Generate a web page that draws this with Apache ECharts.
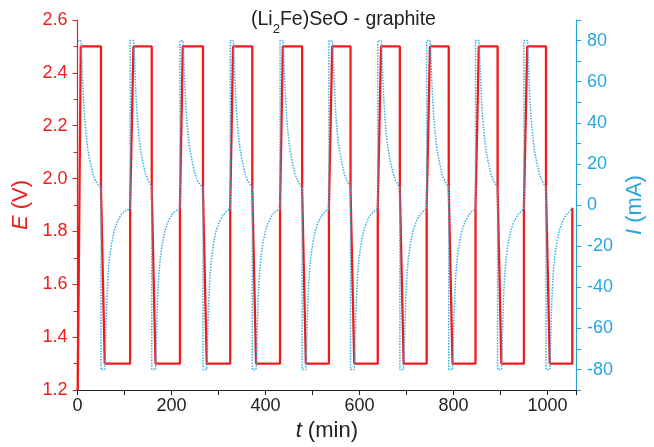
<!DOCTYPE html>
<html><head><meta charset="utf-8">
<script src="https://cdn.jsdelivr.net/npm/echarts@6/dist/echarts.min.js"></script>
<style>html,body{margin:0;padding:0;background:#fff}#c{width:654px;height:447px}</style>
</head><body><div id="c"></div>
<script>
// ---- data (t in min) ----
const chargeStart    = [0.5, 112, 218, 325, 431, 535, 639, 743, 847, 950];
const topStart       = [7, 119, 224, 331, 437, 542, 646, 750, 854, 957];
const dischargeStart = [50, 158, 267, 372, 478, 581, 686, 790, 894, 997];
const bottomStart    = [58, 166, 275, 380, 486, 589, 694, 798, 902, 1005];
const endTime = 1053;
// voltage levels (V)
const E_start = 1.2, E_top = 2.5, E_bottom = 1.3, E_chargeJump = 1.89, E_dischargeJump = 1.96;
// current relaxation shapes (minutes after plateau start, mA)
const chargeCurrent = [[0,80],[1,79],[3,66],[5.5,53],[8,43],[11,35],[15,27],[20,21],[26,15],[31,12],[36,10]];
const chargeEndCurrent = 8.5;
const dischargeCurrent = [[0,-80],[1,-75],[2.5,-60],[4.5,-46],[7,-34],[10.5,-25],[15,-18],[20,-12.5],[27,-8],[34,-5],[42,-3]];
const dischargeEndCurrent = -1.8;
const ccCurrent = 80;
const xLabels = [0, 200, 400, 600, 800, 1000];
const rightLabels = [-80, -60, -40, -20, 0, 20, 40, 60, 80];

// ---- build series ----
const E = [];
const I = [];
for (let k = 0; k < chargeStart.length; k++) {
  if (k === 0) {
    E.push([chargeStart[k], E_start]);
    I.push([chargeStart[k], ccCurrent]);
  } else {
    E.push([chargeStart[k], E_bottom], [chargeStart[k], E_chargeJump]);
    I.push([chargeStart[k], dischargeEndCurrent], [chargeStart[k], ccCurrent]);
  }
  E.push([topStart[k], E_top], [dischargeStart[k], E_top],
         [dischargeStart[k], E_dischargeJump], [bottomStart[k], E_bottom]);
  chargeCurrent.forEach(p => I.push([topStart[k] + p[0], p[1]]));
  I.push([dischargeStart[k], chargeEndCurrent], [dischargeStart[k], -ccCurrent]);
  dischargeCurrent.forEach(p => I.push([bottomStart[k] + p[0], p[1]]));
}
E.push([endTime, E_bottom], [endTime, E_chargeJump]);
I.push([endTime - 1, dischargeEndCurrent]);

const FONT = 'Liberation Sans, Arial, sans-serif';
const RED = '#f01c1c';
const BLUE = '#26a6e0';
const DARK = '#222222';

const chart = echarts.init(document.getElementById('c'), null, {renderer: 'canvas'});
chart.setOption({
  animation: false,
  backgroundColor: '#ffffff',
  textStyle: {fontFamily: FONT},
  title: {
    text: '{n|(Li}{s|2}{n|Fe)SeO - graphite}',
    left: 246, top: 5,
    textStyle: {
      fontWeight: 'normal',
      rich: {
        n: {fontSize: 19.5, fontFamily: FONT, fontWeight: 'normal', color: DARK, lineHeight: 26, verticalAlign: 'top'},
        s: {fontSize: 13, fontFamily: FONT, fontWeight: 'normal', color: DARK, lineHeight: 14, verticalAlign: 'bottom'}
      }
    }
  },
  grid: {left: 77.5, right: 64.5, top: 20, bottom: 52, containLabel: false},
  xAxis: {
    type: 'value', min: 0, max: 1061, interval: 100,
    axisLine: {show: true, onZero: false, lineStyle: {color: DARK, width: 1.2}},
    axisTick: {show: true, length: 5, lineStyle: {color: DARK}},
    axisLabel: {
      color: DARK, fontSize: 18, margin: 7, fontFamily: FONT,
      formatter: v => xLabels.includes(Math.round(v)) ? String(Math.round(v)) : ''
    },
    splitLine: {show: false},
    name: '{i|t}{n| (min)}', nameLocation: 'middle', nameGap: 28,
    nameTextStyle: {rich: {
      i: {fontSize: 22, fontStyle: 'italic', color: DARK, fontFamily: FONT},
      n: {fontSize: 22, color: DARK, fontFamily: FONT}
    }}
  },
  yAxis: [{
    type: 'value', min: 1.2, max: 2.6, interval: 0.2, position: 'left',
    axisLine: {show: true, onZero: false, lineStyle: {color: RED, width: 1.2}},
    axisTick: {show: true, length: 5, lineStyle: {color: RED}},
    minorTick: {show: true, splitNumber: 2, length: 4, lineStyle: {color: RED}},
    axisLabel: {color: RED, fontSize: 18, margin: 10, fontFamily: FONT, formatter: v => v.toFixed(1)},
    splitLine: {show: false},
    name: '{i|E}{n| (V)}', nameLocation: 'middle', nameGap: 43, nameRotate: 90,
    nameTextStyle: {rich: {
      i: {fontSize: 22, fontStyle: 'italic', color: RED, fontFamily: FONT},
      n: {fontSize: 22, color: RED, fontFamily: FONT}
    }}
  }, {
    type: 'value', min: -90, max: 90, interval: 10, position: 'right',
    axisLine: {show: true, onZero: false, lineStyle: {color: BLUE, width: 1.2}},
    axisTick: {show: true, length: 5, lineStyle: {color: BLUE}},
    axisLabel: {
      color: BLUE, fontSize: 18, margin: 11, fontFamily: FONT,
      formatter: v => rightLabels.includes(Math.round(v)) ? String(Math.round(v)) : ''
    },
    splitLine: {show: false},
    name: '{i|I}{n| (mA)}', nameLocation: 'middle', nameGap: 42, nameRotate: 90,
    nameTextStyle: {rich: {
      i: {fontSize: 22, fontStyle: 'italic', color: BLUE, fontFamily: FONT},
      n: {fontSize: 22, color: BLUE, fontFamily: FONT}
    }}
  }],
  series: [{
    name: 'E', type: 'line', yAxisIndex: 0, data: E,
    showSymbol: false, symbol: 'none', clip: true, z: 2,
    lineStyle: {color: RED, width: 2.3}
  }, {
    name: 'I', type: 'line', yAxisIndex: 1, data: I,
    showSymbol: false, symbol: 'none', clip: true, z: 3,
    lineStyle: {color: '#3aafe6', width: 1.5, type: [1.5, 1.3]}
  }]
});
</script></body></html>
